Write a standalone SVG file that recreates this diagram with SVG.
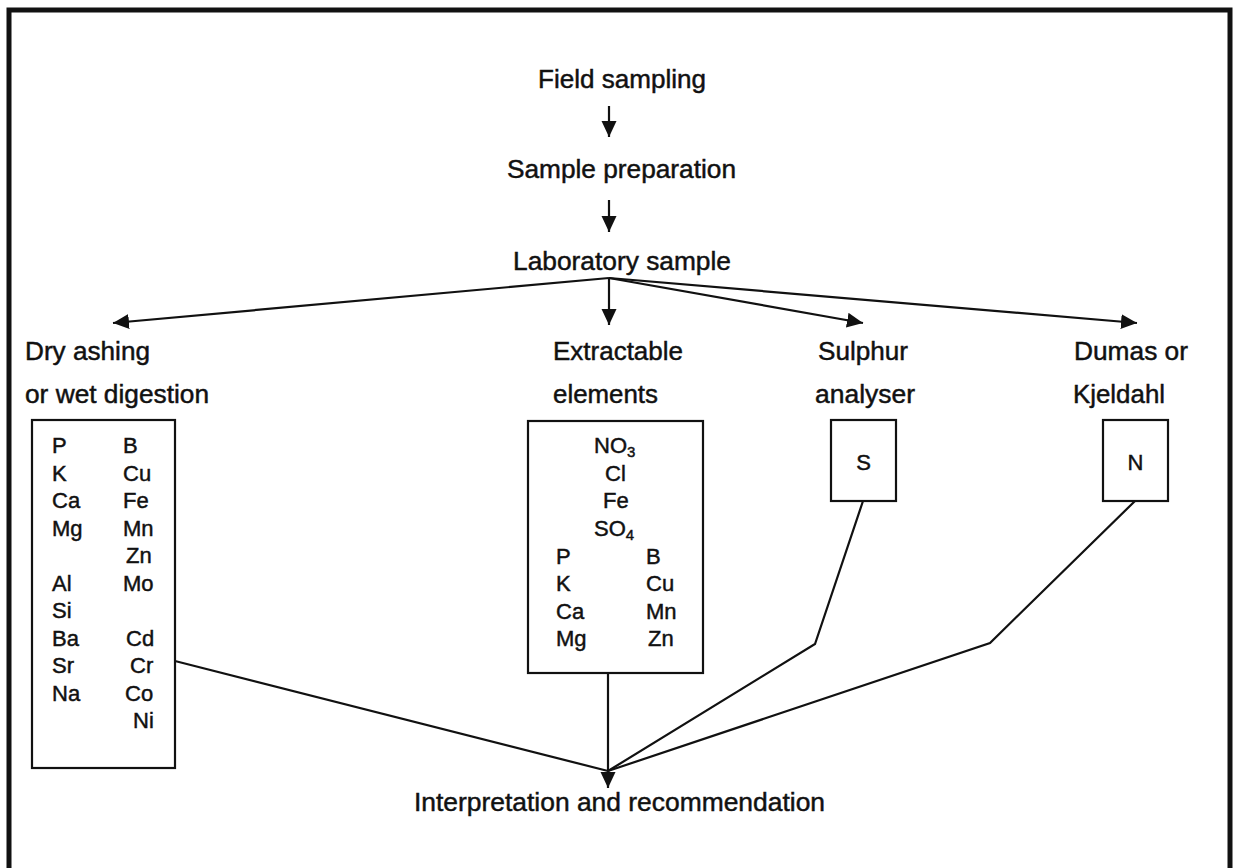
<svg xmlns="http://www.w3.org/2000/svg" width="1234" height="868" viewBox="0 0 1234 868">
<style>
text{font-family:"Liberation Sans",Arial,sans-serif;fill:#111;stroke:#111;stroke-width:0.45}
.h{font-size:25px}
.e{font-size:22px}
.sub{font-size:15px}
.box{fill:none;stroke:#111;stroke-width:2.2}
.c{fill:none;stroke:#111;stroke-width:2.2}
</style>
<defs>
<marker id="ah" markerUnits="userSpaceOnUse" markerWidth="17" markerHeight="16" refX="16" refY="7.5" orient="auto">
<path d="M0,0 L16,7.5 L0,15 z" fill="#111"/>
</marker>
</defs>
<rect x="9" y="10" width="1221" height="900" fill="#fff" stroke="#111" stroke-width="5"/>

<g id="connectors">
<line class="c" x1="609" y1="106" x2="609" y2="137" marker-end="url(#ah)"/>
<line class="c" x1="609" y1="200" x2="609" y2="232" marker-end="url(#ah)"/>
<line class="c" x1="609" y1="278" x2="113" y2="323" marker-end="url(#ah)"/>
<line class="c" x1="609" y1="278" x2="609" y2="325" marker-end="url(#ah)"/>
<line class="c" x1="609" y1="278" x2="863" y2="323" marker-end="url(#ah)"/>
<line class="c" x1="609" y1="278" x2="1137" y2="323" marker-end="url(#ah)"/>
<line class="c" x1="608" y1="673" x2="608" y2="788" marker-end="url(#ah)"/>
<polyline class="c" points="175,661 608,771"/>
<polyline class="c" points="863,501 815,644 608,771"/>
<polyline class="c" points="1135,501 990,643 608,771"/>
</g>

<g id="field-sampling"><text class="h" x="538" y="88" textLength="168" lengthAdjust="spacingAndGlyphs">Field sampling</text></g>
<g id="sample-preparation"><text class="h" x="507" y="178" textLength="229" lengthAdjust="spacingAndGlyphs">Sample preparation</text></g>
<g id="laboratory-sample"><text class="h" x="513" y="270" textLength="218" lengthAdjust="spacingAndGlyphs">Laboratory sample</text></g>

<g id="dry-ashing">
<text class="h" x="25" y="360" textLength="125" lengthAdjust="spacingAndGlyphs">Dry ashing</text>
<text class="h" x="25" y="403" textLength="184" lengthAdjust="spacingAndGlyphs">or wet digestion</text>
<rect class="box" x="32" y="420" width="143" height="348"/>
<text class="e" x="52" y="453">P</text>
<text class="e" x="52" y="480.5">K</text>
<text class="e" x="52" y="508">Ca</text>
<text class="e" x="52" y="535.5">Mg</text>
<text class="e" x="52" y="590.5">Al</text>
<text class="e" x="52" y="618">Si</text>
<text class="e" x="52" y="645.5">Ba</text>
<text class="e" x="52" y="673">Sr</text>
<text class="e" x="52" y="700.5">Na</text>
<text class="e" x="123" y="453">B</text>
<text class="e" x="123" y="480.5">Cu</text>
<text class="e" x="123" y="508">Fe</text>
<text class="e" x="123" y="535.5">Mn</text>
<text class="e" x="126" y="563">Zn</text>
<text class="e" x="123" y="590.5">Mo</text>
<text class="e" x="126" y="645.5">Cd</text>
<text class="e" x="130" y="673">Cr</text>
<text class="e" x="125" y="700.5">Co</text>
<text class="e" x="133" y="728">Ni</text>
</g>

<g id="extractable">
<text class="h" x="553" y="360" textLength="130" lengthAdjust="spacingAndGlyphs">Extractable</text>
<text class="h" x="553" y="403" textLength="105" lengthAdjust="spacingAndGlyphs">elements</text>
<rect class="box" x="528" y="421" width="175" height="252"/>
<text class="e" x="594" y="453">NO<tspan class="sub" dy="4">3</tspan></text>
<text class="e" x="605" y="480.5">Cl</text>
<text class="e" x="603" y="508">Fe</text>
<text class="e" x="594" y="536">SO<tspan class="sub" dy="4">4</tspan></text>
<text class="e" x="556" y="564">P</text>
<text class="e" x="556" y="591">K</text>
<text class="e" x="556" y="619">Ca</text>
<text class="e" x="556" y="646">Mg</text>
<text class="e" x="646" y="564">B</text>
<text class="e" x="646" y="591">Cu</text>
<text class="e" x="646" y="619">Mn</text>
<text class="e" x="648" y="646">Zn</text>
</g>

<g id="sulphur">
<text class="h" x="818" y="360" textLength="90" lengthAdjust="spacingAndGlyphs">Sulphur</text>
<text class="h" x="815" y="403" textLength="100" lengthAdjust="spacingAndGlyphs">analyser</text>
<rect class="box" x="831" y="420" width="65" height="81"/>
<text class="e" x="863.5" y="470" text-anchor="middle">S</text>
</g>

<g id="dumas">
<text class="h" x="1074" y="360" textLength="114" lengthAdjust="spacingAndGlyphs">Dumas or</text>
<text class="h" x="1073" y="403" textLength="92" lengthAdjust="spacingAndGlyphs">Kjeldahl</text>
<rect class="box" x="1103" y="420" width="65" height="81"/>
<text class="e" x="1135.5" y="470" text-anchor="middle">N</text>
</g>

<g id="interpretation"><text class="h" x="414" y="811" textLength="411" lengthAdjust="spacingAndGlyphs">Interpretation and recommendation</text></g>
</svg>
